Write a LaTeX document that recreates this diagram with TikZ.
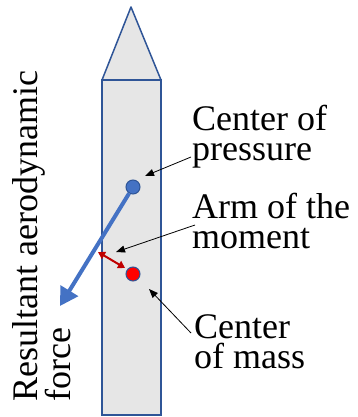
\documentclass[tikz,border=0pt]{standalone}
\usepackage{fontspec}
\setmainfont{Liberation Serif}
\usetikzlibrary{arrows.meta}
\definecolor{rktline}{HTML}{2F5597}
\definecolor{rktfill}{HTML}{E6E6E6}
\definecolor{cpblue}{HTML}{4472C4}
\definecolor{armred}{HTML}{C00000}
\newcommand\lblfontA{\fontsize{36}{30}\selectfont\setlength{\lineskiplimit}{-50pt}}
\newcommand\lblfontB{\fontsize{36}{33}\selectfont\setlength{\lineskiplimit}{-50pt}}
\begin{document}
\begin{tikzpicture}[x=1pt,y=-1pt,
  lbl/.style={font=\lblfontA, align=left, inner sep=0pt},
  ptr/.style={-{Triangle[length=9pt,width=7pt]}, line width=0.8pt, black},
  dot/.style={circle, draw=rktline, line width=1pt, minimum size=14pt, inner sep=0pt}]
\useasboundingbox (0,0) rectangle (358,417);
% rocket
\draw[rktline, fill=rktfill, line width=1.5pt, line join=round] (102,80) -- (131,7) -- (161,80) -- cycle;
\draw[rktline, fill=rktfill, line width=1.5pt] (102,80) rectangle (161,415);
% points
\node[dot, fill=cpblue] (cp) at (133,187) {};
\node[dot, fill=red] (cm) at (133,274) {};
% resultant force
\coordinate (ftip) at (60,306);
\draw[cpblue, line width=4pt, -{Triangle[length=18pt,width=20pt]}] (cp) -- (ftip);
% arm of the moment
\coordinate (arm1) at (98,252);
\coordinate (arm2) at (125,268);
\draw[armred, line width=2pt, {Triangle[length=7pt,width=8pt]}-{Triangle[length=7pt,width=8pt]}] (arm1) -- (arm2);
% labels (base anchor = baseline of the last line)
\node[lbl, anchor=base west] (cpl) at (192,160) {Center of\\pressure};
\node[lbl, anchor=base west] (arml) at (192,248) {Arm of the\\moment};
\node[lbl, anchor=base west] (cml) at (194,368) {Center\\of mass};
\node[lbl, font=\lblfontB, rotate=90, anchor=base west] (forcel) at (70,402) {Resultant aerodynamic\\force};
% pointers
\coordinate (cpfrom) at (191,157);
\coordinate (cpto) at (145,176);
\coordinate (armfrom) at (195,225);
\coordinate (armto) at (116,252);
\coordinate (cmfrom) at (191,333);
\coordinate (cmto) at (149,289);
\draw[ptr] (cpfrom) -- (cpto);
\draw[ptr] (armfrom) -- (armto);
\draw[ptr] (cmfrom) -- (cmto);
\end{tikzpicture}
\end{document}
